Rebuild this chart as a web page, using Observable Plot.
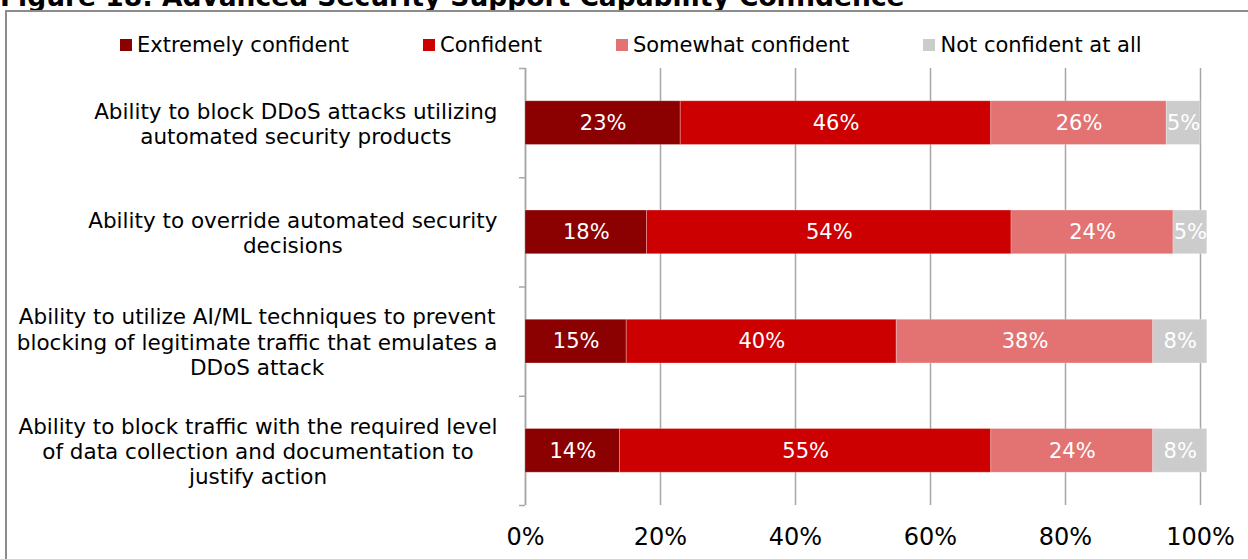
<!DOCTYPE html>
<html><head><meta charset="utf-8">
<script src="https://cdn.jsdelivr.net/npm/d3@7"></script>
<script src="https://cdn.jsdelivr.net/npm/@observablehq/plot@0.6"></script>
<style>
body{margin:0;width:1248px;height:559px;overflow:hidden;background:#fff;font-family:"DejaVu Sans",Verdana,sans-serif;position:relative;color:#000}
#title{position:absolute;left:0;top:-19.5px;font-weight:bold;font-size:26.5px;white-space:nowrap;}
#box{position:absolute;left:5px;top:10px;width:1260px;height:560px;border-top:2px solid #8c8c8c;border-left:2px solid #8c8c8c;}
#legend{height:50px;box-sizing:border-box;padding-left:113px;padding-top:15px;display:flex;align-items:center;font-size:21px;line-height:24px;white-space:nowrap}
#legend .item{display:flex;align-items:center;margin-right:74px}
#legend .sw{width:12px;height:12px;margin-right:5px}
svg{display:block}
</style>
</head><body>
<div id="title">Figure 18: Advanced Security Support Capability Confidence</div>
<div id="box"><div id="legend"></div><div id="chart"></div></div>
<script>
const categories = [
  "Ability to block DDoS attacks utilizing\nautomated security products",
  "Ability to override automated security\ndecisions",
  "Ability to utilize AI/ML techniques to prevent\nblocking of legitimate traffic that emulates a\nDDoS attack",
  "Ability to block traffic with the required level\nof data collection and documentation to\njustify action"
];
const series = ["Extremely confident", "Confident", "Somewhat confident", "Not confident at all"];
const extremely = [23, 18, 15, 14];
const confident = [46, 54, 40, 55];
const somewhat = [26, 24, 38, 24];
const notConfident = [5, 5, 8, 8];
const colors = ["#8b0000", "#cc0000", "#e37272", "#cccccc"];
const xTicks = [0, 20, 40, 60, 80, 100];

const seriesValues = [extremely, confident, somewhat, notConfident];
const rows = [];
categories.forEach((c, i) => {
  let acc = 0;
  seriesValues.forEach((arr, j) => {
    const v = arr[i];
    rows.push({cat: c, i, series: series[j], value: v, x1: acc, x2: acc + v});
    acc += v;
  });
});

// legend
const legend = document.getElementById("legend");
series.forEach((s, j) => {
  const it = document.createElement("div"); it.className = "item";
  const sw = document.createElement("div"); sw.className = "sw"; sw.style.background = colors[j];
  const tx = document.createElement("span"); tx.textContent = s;
  it.appendChild(sw); it.appendChild(tx); legend.appendChild(it);
});

const gridColor = "#a6a6a6";
const chart = Plot.plot({
  width: 1241, height: 497,
  marginLeft: 518, marginRight: 48, marginTop: 6, marginBottom: 54,
  style: {fontFamily: "DejaVu Sans, Verdana, sans-serif", background: "transparent", color: "#000", overflow: "visible"},
  x: {domain: [0, 100]},
  y: {domain: [0, categories.length], reverse: true},
  color: {domain: series, range: colors},
  marks: [
    Plot.gridX(xTicks, {stroke: gridColor, strokeOpacity: 1, strokeWidth: 1.5}),
    Plot.ruleX([0], {stroke: gridColor, strokeWidth: 1.5}),
    Plot.rectX(rows, {x1: "x1", x2: "x2", y1: d => d.i + 0.3, y2: d => d.i + 0.7, fill: "series", stroke: "white", strokeOpacity: 0.25, strokeWidth: 1}),
    Plot.text(rows, {x: d => (d.x1 + d.x2) / 2, y: d => d.i + 0.5, text: d => d.value + "%", fill: "white", fontSize: 21}),
    Plot.axisY(d3.range(categories.length + 1), {tickSize: 6, tickFormat: () => "", stroke: gridColor, strokeWidth: 1.5}),
    Plot.axisY(categories.map((c, i) => i + 0.5), {tickSize: 0, tickPadding: 28, tickFormat: t => categories[Math.floor(t)], fontSize: 21.5, lineHeight: 1.18, fill: "#000"}),
    Plot.axisX(xTicks, {tickSize: 0, tickPadding: 22, tickFormat: d => d + "%", fontSize: 24, fill: "#000"})
  ]
});
document.getElementById("chart").appendChild(chart);

// center lines within each multi-line category label (block stays right-aligned)
chart.querySelectorAll('g[aria-label="y-axis tick label"] text').forEach(t => {
  const spans = t.querySelectorAll("tspan");
  if (!spans.length) return;
  let W = 0;
  spans.forEach(s => { W = Math.max(W, s.getComputedTextLength()); });
  t.setAttribute("text-anchor", "middle");
  spans.forEach(s => s.setAttribute("x", -W / 2));
});
</script>
</body></html>
